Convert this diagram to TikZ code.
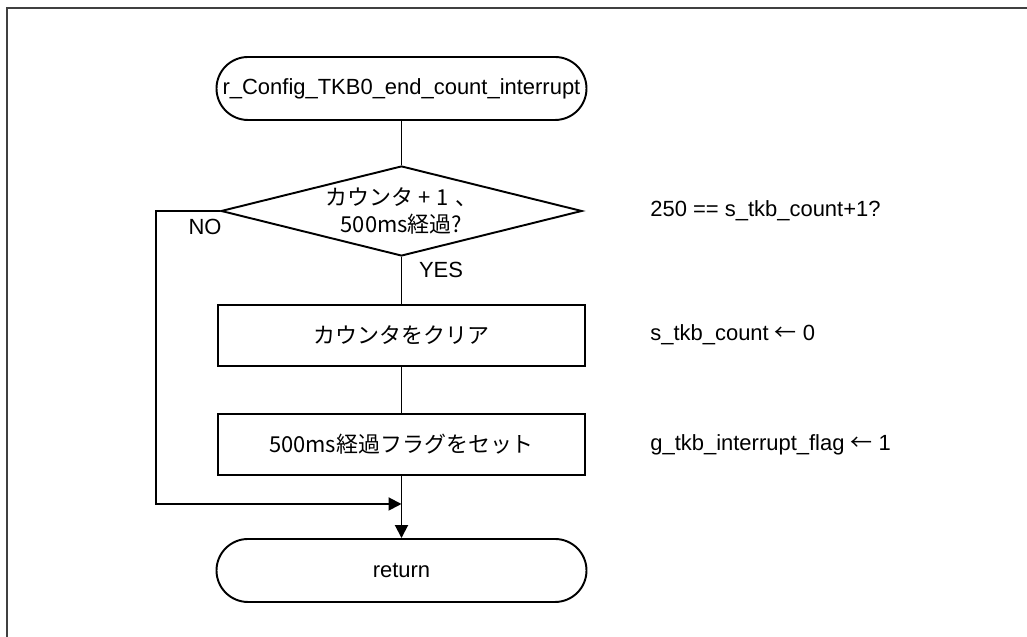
\documentclass[tikz,border=0pt]{standalone}
\usepackage{fontspec}
\setmainfont{Liberation Sans}
\newfontfamily\jp{Noto Sans CJK JP}
\usetikzlibrary{shapes.geometric,arrows.meta}
\begin{document}
\begin{tikzpicture}[x=1cm,y=1cm,
  font=\fontsize{12.5}{15.3}\selectfont,
  jptext/.style={font=\fontsize{12.5}{15.3}\selectfont\jp},
  term/.style={draw,line width=1.1pt,rounded corners=0.63cm,minimum width=7.4cm,minimum height=1.26cm,inner sep=0pt},
  proc/.style={draw,line width=1.1pt,minimum width=7.34cm,minimum height=1.22cm,inner sep=0pt},
  decide/.style={draw,line width=1.1pt,diamond,aspect=4,minimum width=7.22cm,minimum height=1.8cm,inner sep=0pt,align=center},
  flow/.style={line width=1.1pt},
  arr/.style={flow,-{Triangle[length=0.26cm,width=0.26cm]}},
  note/.style={anchor=west,inner sep=0pt}]
\useasboundingbox (0,0) rectangle (20.54,12.74);
\draw[line width=0.9pt,black!75] (0.14,0) -- (0.14,12.58) -- (20.54,12.58);
% flow
\node[term] (start) at (8.03,10.97) {r\_Config\_TKB0\_end\_count\_interrupt};
\node[decide,jptext] (check) at (8.03,8.52) {カウンタ\hspace{0.25em}+\hspace{0.25em}1\hspace{0.3em}、\\500ms経過?};
\node[proc,jptext] (clear) at (8.03,6.03) {カウンタをクリア};
\node[proc,jptext] (setflag) at (8.03,3.85) {500ms経過フラグをセット};
\node[term] (ret) at (8.03,1.33) {return};
\coordinate (join) at (8.03,2.66);
\draw[flow] (start) -- (check);
\draw[flow] (check) -- (clear);
\draw[flow] (clear) -- (setflag);
\draw[arr] (setflag) -- (ret);
\draw[arr] (check.west) -- ++(-1.28,0) |- (join);
\node (no) at (4.1,8.2) {NO};
\node (yes) at (8.82,7.34) {YES};
% notes
\node[note] (cond) at (13.0,8.52) {250 == s\_tkb\_count+1?};
\node[note] (clrnote) at (13.0,6.04) {s\_tkb\_count {\jp ←} 0};
\node[note] (flagnote) at (13.0,3.84) {g\_tkb\_interrupt\_flag {\jp ←} 1};
\end{tikzpicture}
\end{document}
